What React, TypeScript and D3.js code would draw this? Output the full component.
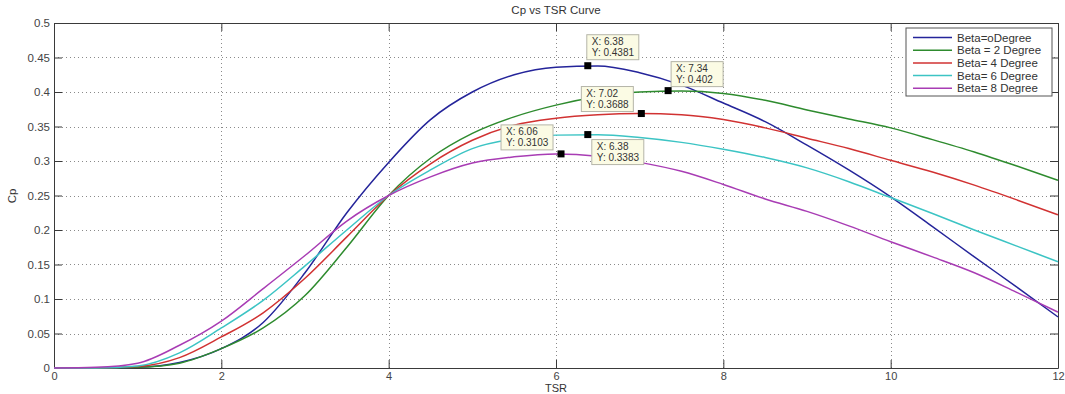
import React, { useEffect, useRef } from 'react';
import * as d3 from 'd3';

// tip speed ratio samples
const tsr = [0, 0.5, 1, 1.5, 2, 2.5, 3, 3.5, 4, 4.5, 5, 5.5, 6, 6.5, 7, 7.5, 8, 8.5, 9, 9.5, 10, 10.5, 11, 11.5, 12];

// Cp per pitch angle
const beta0 = [0, 0, 0.001, 0.008, 0.028, 0.066, 0.138, 0.225, 0.298, 0.36, 0.4, 0.425, 0.436, 0.4378, 0.428, 0.41, 0.384, 0.357, 0.323, 0.287, 0.248, 0.205, 0.161, 0.118, 0.074];
const beta2 = [0, 0, 0.001, 0.007, 0.028, 0.058, 0.105, 0.175, 0.25, 0.304, 0.34, 0.364, 0.381, 0.393, 0.4, 0.4015, 0.398, 0.388, 0.374, 0.361, 0.348, 0.331, 0.313, 0.293, 0.272];
const beta4 = [0, 0, 0.002, 0.015, 0.045, 0.08, 0.13, 0.19, 0.25, 0.296, 0.33, 0.352, 0.362, 0.367, 0.3688, 0.367, 0.36, 0.348, 0.333, 0.318, 0.301, 0.284, 0.265, 0.244, 0.222];
const beta6 = [0, 0, 0.003, 0.022, 0.058, 0.098, 0.148, 0.2, 0.25, 0.287, 0.318, 0.332, 0.3375, 0.338, 0.334, 0.327, 0.317, 0.305, 0.29, 0.27, 0.247, 0.224, 0.2, 0.177, 0.154];
const beta8 = [0, 0.001, 0.007, 0.033, 0.068, 0.115, 0.163, 0.213, 0.25, 0.277, 0.297, 0.306, 0.3102, 0.307, 0.298, 0.285, 0.266, 0.245, 0.227, 0.206, 0.183, 0.161, 0.138, 0.11, 0.081];

const seriesNames = ['Beta=oDegree', 'Beta = 2 Degree', 'Beta= 4 Degree', 'Beta= 6 Degree', 'Beta= 8 Degree'];
const seriesValues = [beta0, beta2, beta4, beta6, beta8];
const colors = ['#24249a', '#2e8b2e', '#d13232', '#3cc4c4', '#a83cb4'];

// data tips
const tipX = [6.38, 7.34, 7.02, 6.38, 6.06];
const tipY = [0.4381, 0.402, 0.3688, 0.3383, 0.3103];
const tipLabelX = ['6.38', '7.34', '7.02', '6.38', '6.06'];
const tipLabelY = ['0.4381', '0.402', '0.3688', '0.3383', '0.3103'];
// box offset from marker (px)
const tipOffset = [[-1, -31], [3, -29], [-60, -27], [4, 5], [-60, -29]];

const xTicks = [0, 2, 4, 6, 8, 10, 12];
const yTicks = [0, 0.05, 0.1, 0.15, 0.2, 0.25, 0.3, 0.35, 0.4, 0.45, 0.5];

function App() {
  const ref = useRef(null);

  useEffect(() => {
    const width = 1065;
    const height = 394;
    const margin = { top: 23, right: 7, bottom: 26, left: 54 };
    const font = 'Liberation Sans, Arial, sans-serif';

    const svg = d3.select(ref.current).attr('width', width).attr('height', height);
    svg.selectAll('*').remove();

    const x = d3.scaleLinear().domain([0, 12]).range([margin.left, width - margin.right]);
    const y = d3.scaleLinear().domain([0, 0.5]).range([height - margin.bottom, margin.top]);

    svg.append('rect').attr('width', width).attr('height', height).attr('fill', '#fff');

    // grid
    const grid = svg.append('g').attr('stroke', '#8a8a8a').attr('stroke-dasharray', '1,3').attr('stroke-width', 1);
    grid.selectAll('.gx').data(xTicks.slice(1, -1)).join('line')
      .attr('x1', d => Math.round(x(d)) + 0.5).attr('x2', d => Math.round(x(d)) + 0.5)
      .attr('y1', y(0.5)).attr('y2', y(0));
    grid.selectAll('.gy').data(yTicks.slice(1, -1)).join('line')
      .attr('class', 'gy')
      .attr('y1', d => Math.round(y(d)) + 0.5).attr('y2', d => Math.round(y(d)) + 0.5)
      .attr('x1', x(0)).attr('x2', x(12));

    // axes (MATLAB box, ticks inside)
    const axisColor = '#3a3a3a';
    svg.append('g')
      .attr('transform', `translate(0,${y(0)})`)
      .call(d3.axisBottom(x).tickValues(xTicks).tickSize(-8).tickSizeOuter(0).tickPadding(4))
      .call(g => g.select('.domain').attr('stroke', axisColor))
      .call(g => g.selectAll('line').attr('stroke', axisColor))
      .call(g => g.selectAll('text').attr('fill', '#444').style('font', `11px ${font}`));
    svg.append('g')
      .attr('transform', `translate(0,${y(0.5)})`)
      .call(d3.axisTop(x).tickValues(xTicks).tickSize(-8).tickSizeOuter(0).tickFormat(() => ''))
      .call(g => g.select('.domain').attr('stroke', axisColor))
      .call(g => g.selectAll('line').attr('stroke', axisColor));
    svg.append('g')
      .attr('transform', `translate(${x(0)},0)`)
      .call(d3.axisLeft(y).tickValues(yTicks).tickSize(-8).tickSizeOuter(0).tickPadding(4).tickFormat(d => String(d)))
      .call(g => g.select('.domain').attr('stroke', axisColor))
      .call(g => g.selectAll('line').attr('stroke', axisColor))
      .call(g => g.selectAll('text').attr('fill', '#444').style('font', `11.5px ${font}`));
    svg.append('g')
      .attr('transform', `translate(${x(12)},0)`)
      .call(d3.axisRight(y).tickValues(yTicks).tickSize(-8).tickSizeOuter(0).tickFormat(() => ''))
      .call(g => g.select('.domain').attr('stroke', axisColor))
      .call(g => g.selectAll('line').attr('stroke', axisColor));

    // curves
    const line = d3.line().x(d => x(d[0])).y(d => y(d[1])).curve(d3.curveMonotoneX);
    seriesValues.forEach((vals, i) => {
      svg.append('path')
        .datum(tsr.map((t, j) => [t, vals[j]]))
        .attr('fill', 'none')
        .attr('stroke', colors[i])
        .attr('stroke-width', 1.5)
        .attr('d', line);
    });

    // data tips
    tipX.forEach((tx, i) => {
      const mx = x(tx);
      const my = y(tipY[i]);
      const bx = mx + tipOffset[i][0];
      const by = my + tipOffset[i][1];
      const g = svg.append('g');
      g.append('rect').attr('x', bx).attr('y', by).attr('width', 52).attr('height', 25)
        .attr('fill', '#fbfbe4').attr('stroke', '#b5b5a8');
      g.append('text').attr('x', bx + 5).attr('y', by + 10.5).attr('fill', '#333')
        .style('font', `10px ${font}`).text(`X: ${tipLabelX[i]}`);
      g.append('text').attr('x', bx + 5).attr('y', by + 21.5).attr('fill', '#333')
        .style('font', `10px ${font}`).text(`Y: ${tipLabelY[i]}`);
      svg.append('rect').attr('x', mx - 3.5).attr('y', my - 3.5).attr('width', 7).attr('height', 7).attr('fill', '#000');
    });

    // legend
    const lg = svg.append('g').attr('transform', 'translate(906,28)');
    lg.append('rect').attr('width', 146).attr('height', 68).attr('fill', '#fff').attr('stroke', '#555');
    seriesNames.forEach((name, i) => {
      const ly = 9.5 + i * 12.7;
      lg.append('line').attr('x1', 7).attr('x2', 46).attr('y1', ly).attr('y2', ly)
        .attr('stroke', colors[i]).attr('stroke-width', 1.5);
      lg.append('text').attr('x', 51).attr('y', ly + 4).attr('fill', '#333')
        .style('font', `11.5px ${font}`).text(name);
    });

    // labels
    svg.append('text').attr('x', 556).attr('y', 14).attr('text-anchor', 'middle').attr('fill', '#333')
      .style('font', `11.5px ${font}`).text('Cp vs TSR Curve');
    svg.append('text').attr('x', 556).attr('y', 392).attr('text-anchor', 'middle').attr('fill', '#333')
      .style('font', `11px ${font}`).text('TSR');
    svg.append('text').attr('transform', 'translate(16,196) rotate(-90)').attr('text-anchor', 'middle').attr('fill', '#333')
      .style('font', `11.5px ${font}`).text('Cp');
  }, []);

  return (
    <div>
      <style>{'body{margin:0}'}</style>
      <svg ref={ref}></svg>
    </div>
  );
}

export default App;
